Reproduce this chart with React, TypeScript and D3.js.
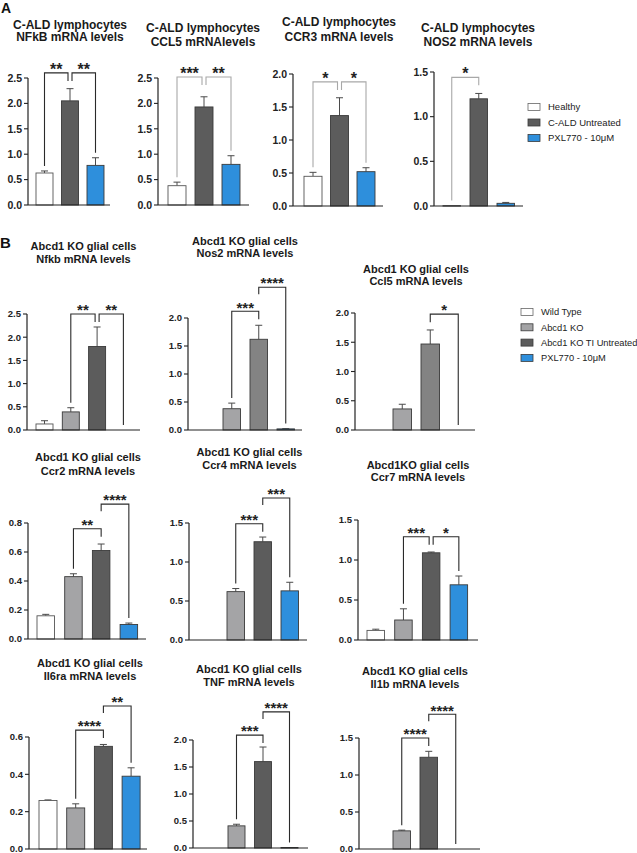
import React from "react";
import * as d3 from "d3";

const FONT = "'Liberation Sans', Arial, Helvetica, sans-serif";

// ---------- Panel A data (C-ALD lymphocytes) ----------
const groupsA = ["Healthy", "C-ALD Untreated", "PXL770 - 10μM"];
const colorsA = ["#ffffff", "#5c5c5c", "#2e8fdc"];

const nfkbA = [0.63, 2.05, 0.78];
const nfkbASem = [0.04, 0.24, 0.15];
const ccl5A = [0.38, 1.93, 0.8];
const ccl5ASem = [0.07, 0.2, 0.17];
const ccr3A = [0.45, 1.37, 0.52];
const ccr3ASem = [0.06, 0.27, 0.06];
const nos2A = [0.005, 1.2, 0.03];
const nos2ASem = [0, 0.06, 0.01];

const ticksA1 = [0, 0.5, 1.0, 1.5, 2.0, 2.5];
const ticksA3 = [0, 0.5, 1.0, 1.5, 2.0];
const ticksA4 = [0, 0.5, 1.0, 1.5];

const statsNfkbA = [
  { a: 0, b: 1, level: 2.6, label: "**" },
  { a: 1, b: 2, level: 2.6, label: "**" },
];
const statsCcl5A = [
  { a: 0, b: 1, level: 2.52, label: "***" },
  { a: 1, b: 2, level: 2.52, label: "**" },
];
const statsCcr3A = [
  { a: 0, b: 1, level: 1.88, label: "*" },
  { a: 1, b: 2, level: 1.88, label: "*" },
];
const statsNos2A = [{ a: 0, b: 1, level: 1.44, label: "*" }];

// ---------- Panel B data (Abcd1 KO glial cells) ----------
const groupsB = ["Wild Type", "Abcd1 KO", "Abcd1 KO TI Untreated", "PXL770 - 10μM"];
const colorsB = ["#ffffff", "#a4a4a6", "#5c5c5c", "#2e8fdc"];
const colorsBMid = ["#ffffff", "#a4a4a6", "#838383", "#2e8fdc"];

const nfkbB = [0.13, 0.39, 1.8, 0];
const nfkbBSem = [0.07, 0.09, 0.42, 0];
const nos2B = [0, 0.38, 1.62, 0.02];
const nos2BSem = [0, 0.1, 0.25, 0.005];
const ccl5B = [0, 0.36, 1.47, 0];
const ccl5BSem = [0, 0.08, 0.24, 0];
const ccr2B = [0.16, 0.43, 0.61, 0.1];
const ccr2BSem = [0.01, 0.02, 0.045, 0.01];
const ccr4B = [0, 0.62, 1.26, 0.63];
const ccr4BSem = [0, 0.04, 0.06, 0.11];
const ccr7B = [0.12, 0.25, 1.09, 0.69];
const ccr7BSem = [0.015, 0.14, 0.01, 0.11];
const il6raB = [0.26, 0.22, 0.55, 0.39];
const il6raBSem = [0.003, 0.022, 0.01, 0.045];
const tnfB = [0, 0.41, 1.6, 0.01];
const tnfBSem = [0, 0.03, 0.27, 0];
const il1bB = [0, 0.245, 1.24, 0];
const il1bBSem = [0, 0.01, 0.08, 0];

const ticks25 = [0, 0.5, 1.0, 1.5, 2.0, 2.5];
const ticks20 = [0, 0.5, 1.0, 1.5, 2.0];
const ticks15 = [0, 0.5, 1.0, 1.5];
const ticks08 = [0, 0.2, 0.4, 0.6, 0.8];
const ticks06 = [0, 0.2, 0.4, 0.6];

const statsNfkbB = [
  { a: 1, b: 2, level: 2.5, label: "**" },
  { a: 2, b: 3, level: 2.5, label: "**" },
];
const statsNos2B = [
  { a: 1, b: 2, level: 2.12, label: "***" },
  { a: 2, b: 3, level: 2.55, label: "****" },
];
const statsCcl5B = [{ a: 2, b: 3, level: 1.98, label: "*" }];
const statsCcr2B = [
  { a: 1, b: 2, level: 0.76, label: "**" },
  { a: 2, b: 3, level: 0.93, label: "****" },
];
const statsCcr4B = [
  { a: 1, b: 2, level: 1.49, label: "***" },
  { a: 2, b: 3, level: 1.82, label: "***" },
];
const statsCcr7B = [
  { a: 1, b: 2, level: 1.29, label: "***" },
  { a: 2, b: 3, level: 1.29, label: "*" },
];
const statsIl6raB = [
  { a: 1, b: 2, level: 0.637, label: "****" },
  { a: 2, b: 3, level: 0.766, label: "**" },
];
const statsTnfB = [
  { a: 1, b: 2, level: 2.09, label: "***" },
  { a: 2, b: 3, level: 2.52, label: "****" },
];
const statsIl1bB = [
  { a: 1, b: 2, level: 1.5, label: "****" },
  { a: 2, b: 3, level: 1.82, label: "****" },
];

type Stat = { a: number; b: number; level: number; label: string };
type Layout = {
  axisX: number;
  firstLeft: number;
  step: number;
  barW: number;
  axisEnd: number;
  yTop: number;
  y0: number;
  titleX: number;
  titleY: [number, number];
  titleSize: number;
  tickSize: number;
  starSize: number;
  bracketColor: string;
};
type Spec = {
  title: [string, string];
  values: number[];
  sems: number[];
  colors: string[];
  ticks: number[];
  stats: Stat[];
  layout: Layout;
};

function Chart({ spec }: { spec: Spec }) {
  const { values, sems, colors, ticks, stats, layout: L } = spec;
  const n = values.length;
  const idx = d3.range(n);
  const x = d3
    .scaleBand<number>()
    .domain(idx)
    .range([L.firstLeft, L.firstLeft + (n - 1) * L.step + L.barW])
    .paddingInner(1 - L.barW / L.step)
    .paddingOuter(0);
  const y = d3
    .scaleLinear()
    .domain([0, ticks[ticks.length - 1]])
    .range([L.y0, L.yTop]);
  const fmt = d3.format(".1f");
  const cx = (i: number) => (x(i) as number) + x.bandwidth() / 2;
  const errTopPx = (i: number) => y(values[i] + sems[i]);

  const brackets = stats.map((s, si) => {
    const top = y(s.level);
    const sharedSame = (end: number) =>
      stats.some(
        (o, oi) => oi !== si && Math.abs(o.level - s.level) < 1e-6 && (o.a === end || o.b === end)
      );
    const lowerShares = (end: number) =>
      stats.some((o, oi) => oi !== si && o.level < s.level - 1e-6 && (o.a === end || o.b === end));
    const legBottom = (end: number, other: number) => {
      if (lowerShares(end)) return top + 7;
      const et = errTopPx(end);
      if (values[end] + sems[end] >= values[other] + sems[other]) return Math.min(top + 8, et - 4);
      return et - 5;
    };
    let xa = cx(s.a);
    let xb = cx(s.b);
    if (sharedSame(s.a)) xa += 2;
    if (sharedSame(s.b)) xb -= 2;
    const ya = legBottom(s.a, s.b);
    const yb = legBottom(s.b, s.a);
    return (
      <g key={si}>
        <path
          d={`M${xa},${ya}V${top}H${xb}V${yb}`}
          fill="none"
          stroke={L.bracketColor}
          strokeWidth={1.1}
        />
        <text
          x={(xa + xb) / 2}
          y={top - 7 + 0.55 * L.starSize}
          textAnchor="middle"
          fontSize={L.starSize}
          fontWeight="bold"
          fontFamily={FONT}
          fill="#222"
        >
          {s.label}
        </text>
      </g>
    );
  });

  return (
    <g>
      {spec.title.map((t, i) => (
        <text
          key={i}
          x={L.titleX}
          y={L.titleY[i]}
          textAnchor="middle"
          fontSize={L.titleSize}
          fontWeight="bold"
          fontFamily={FONT}
          fill="#1a1a1a"
        >
          {t}
        </text>
      ))}
      {idx.map((i) =>
        values[i] > 0 ? (
          <g key={i}>
            {sems[i] > 0 && (
              <g stroke="#4a4a4a" strokeWidth={1}>
                <line x1={cx(i)} x2={cx(i)} y1={y(values[i])} y2={errTopPx(i)} />
                <line x1={cx(i) - 3.5} x2={cx(i) + 3.5} y1={errTopPx(i)} y2={errTopPx(i)} />
              </g>
            )}
            <rect
              x={x(i)}
              y={y(values[i])}
              width={x.bandwidth()}
              height={Math.max(0.6, L.y0 - y(values[i]))}
              fill={colors[i]}
              stroke={i === 0 ? "#555" : "#3a3a3a"}
              strokeWidth={0.9}
            />
          </g>
        ) : null
      )}
      <line x1={L.axisX} x2={L.axisX} y1={L.y0} y2={L.yTop} stroke="#222" strokeWidth={1.2} />
      <line x1={L.axisX} x2={L.axisEnd} y1={L.y0} y2={L.y0} stroke="#222" strokeWidth={1.2} />
      {ticks.map((t) => (
        <g key={t}>
          <line x1={L.axisX - 4} x2={L.axisX} y1={y(t)} y2={y(t)} stroke="#222" strokeWidth={1.1} />
          <text
            x={L.axisX - 6}
            y={y(t) + L.tickSize * 0.36}
            textAnchor="end"
            fontSize={L.tickSize}
            fontWeight="bold"
            fontFamily={FONT}
            fill="#222"
          >
            {fmt(t)}
          </text>
        </g>
      ))}
      {brackets}
    </g>
  );
}

const aBase = { titleSize: 12, tickSize: 10.5, starSize: 16 };
const bBase = { titleSize: 11, tickSize: 9.5, starSize: 15, bracketColor: "#2a2a2a" };

const specs: Spec[] = [
  {
    title: ["C-ALD lymphocytes", "NFkB mRNA levels"],
    values: nfkbA, sems: nfkbASem, colors: colorsA, ticks: ticksA1, stats: statsNfkbA,
    layout: { ...aBase, axisX: 28, firstLeft: 36, step: 25.5, barW: 17, axisEnd: 110, yTop: 78, y0: 205, titleX: 70, titleY: [28.5, 41], bracketColor: "#2a2a2a" },
  },
  {
    title: ["C-ALD lymphocytes", "CCL5 mRNAlevels"],
    values: ccl5A, sems: ccl5ASem, colors: colorsA, ticks: ticksA1, stats: statsCcl5A,
    layout: { ...aBase, axisX: 158, firstLeft: 168, step: 27, barW: 18, axisEnd: 249, yTop: 78, y0: 205, titleX: 203, titleY: [32, 45.5], bracketColor: "#a8a8a8" },
  },
  {
    title: ["C-ALD lymphocytes", "CCR3 mRNA levels"],
    values: ccr3A, sems: ccr3ASem, colors: colorsA, ticks: ticksA3, stats: statsCcr3A,
    layout: { ...aBase, axisX: 293, firstLeft: 304, step: 26.5, barW: 18, axisEnd: 383, yTop: 74, y0: 206, titleX: 339, titleY: [25.5, 40.5], bracketColor: "#a8a8a8" },
  },
  {
    title: ["C-ALD lymphocytes", "NOS2 mRNA levels"],
    values: nos2A, sems: nos2ASem, colors: colorsA, ticks: ticksA4, stats: statsNos2A,
    layout: { ...aBase, axisX: 434, firstLeft: 443, step: 27, barW: 17.5, axisEnd: 523, yTop: 72, y0: 206, titleX: 478, titleY: [32, 45.5], bracketColor: "#a8a8a8" },
  },
  {
    title: ["Abcd1 KO glial cells", "Nfkb mRNA levels"],
    values: nfkbB, sems: nfkbBSem, colors: colorsB, ticks: ticks25, stats: statsNfkbB,
    layout: { ...bBase, axisX: 27, firstLeft: 36, step: 26.3, barW: 17, axisEnd: 140, yTop: 314, y0: 430, titleX: 83.5, titleY: [249.5, 263] },
  },
  {
    title: ["Abcd1 KO glial cells", "Nos2 mRNA levels"],
    values: nos2B, sems: nos2BSem, colors: colorsBMid, ticks: ticks20, stats: statsNos2B,
    layout: { ...bBase, axisX: 188, firstLeft: 196, step: 27, barW: 17.5, axisEnd: 302, yTop: 318, y0: 430, titleX: 245, titleY: [244.5, 257] },
  },
  {
    title: ["Abcd1 KO glial cells", "Ccl5 mRNA levels"],
    values: ccl5B, sems: ccl5BSem, colors: colorsBMid, ticks: ticks20, stats: statsCcl5B,
    layout: { ...bBase, axisX: 355, firstLeft: 365, step: 28, barW: 18.5, axisEnd: 475, yTop: 313, y0: 430, titleX: 416, titleY: [273, 285] },
  },
  {
    title: ["Abcd1 KO glial cells", "Ccr2 mRNA levels"],
    values: ccr2B, sems: ccr2BSem, colors: colorsB, ticks: ticks08, stats: statsCcr2B,
    layout: { ...bBase, axisX: 28, firstLeft: 37, step: 27.7, barW: 17.5, axisEnd: 146, yTop: 523, y0: 639, titleX: 88, titleY: [461, 474.5] },
  },
  {
    title: ["Abcd1 KO glial cells", "Ccr4 mRNA levels"],
    values: ccr4B, sems: ccr4BSem, colors: colorsB, ticks: ticks15, stats: statsCcr4B,
    layout: { ...bBase, axisX: 189, firstLeft: 200, step: 27, barW: 17.5, axisEnd: 307, yTop: 523, y0: 640, titleX: 249.5, titleY: [456, 468.5] },
  },
  {
    title: ["Abcd1KO glial cells", "Ccr7 mRNA levels"],
    values: ccr7B, sems: ccr7BSem, colors: colorsB, ticks: ticks15, stats: statsCcr7B,
    layout: { ...bBase, axisX: 358, firstLeft: 367, step: 27.7, barW: 17.5, axisEnd: 478, yTop: 520, y0: 640, titleX: 418, titleY: [468.5, 481] },
  },
  {
    title: ["Abcd1 KO glial cells", "Il6ra mRNA levels"],
    values: il6raB, sems: il6raBSem, colors: colorsB, ticks: ticks06, stats: statsIl6raB,
    layout: { ...bBase, axisX: 29, firstLeft: 39, step: 27.7, barW: 18, axisEnd: 147, yTop: 737, y0: 849, titleX: 90, titleY: [667, 679.5] },
  },
  {
    title: ["Abcd1 KO glial cells", "TNF mRNA levels"],
    values: tnfB, sems: tnfBSem, colors: colorsB, ticks: ticks20, stats: statsTnfB,
    layout: { ...bBase, axisX: 193, firstLeft: 201.5, step: 26.5, barW: 17, axisEnd: 308, yTop: 740, y0: 848, titleX: 249, titleY: [673, 686] },
  },
  {
    title: ["Abcd1 KO glial cells", "Il1b mRNA levels"],
    values: il1bB, sems: il1bBSem, colors: colorsB, ticks: ticks15, stats: statsIl1bB,
    layout: { ...bBase, axisX: 359, firstLeft: 366, step: 27, barW: 17.5, axisEnd: 480, yTop: 738, y0: 849, titleX: 415, titleY: [674.5, 687.5] },
  },
];

function Legend({ groups, colors, x, y, dy, size }: { groups: string[]; colors: string[]; x: number; y: number; dy: number; size: number }) {
  return (
    <g>
      {groups.map((g, i) => (
        <g key={g} transform={`translate(${x},${y + i * dy})`}>
          <rect x={0} y={-3.5} width={12} height={7} fill={colors[i]} stroke={i === 0 ? "#666" : "#3a3a3a"} strokeWidth={0.8} />
          <text x={20} y={size * 0.36} fontSize={size} fontFamily={FONT} fill="#222">
            {g}
          </text>
        </g>
      ))}
    </g>
  );
}

export default function App() {
  return (
    <svg
      width={637}
      height={853}
      viewBox="0 0 637 853"
      style={{ position: "absolute", left: 0, top: 0, background: "#fff" }}
    >
      <rect width={637} height={853} fill="#fff" />
      <text x={1} y={12.5} fontSize={14} fontWeight="bold" fontFamily={FONT} fill="#111">A</text>
      <text x={0} y={248} fontSize={15} fontWeight="bold" fontFamily={FONT} fill="#111">B</text>
      {specs.map((s, i) => (
        <Chart key={i} spec={s} />
      ))}
      <Legend groups={groupsA} colors={colorsA} x={528} y={107} dy={15.5} size={9.5} />
      <Legend groups={groupsB} colors={colorsB} x={521} y={312} dy={15.3} size={9.3} />
    </svg>
  );
}
